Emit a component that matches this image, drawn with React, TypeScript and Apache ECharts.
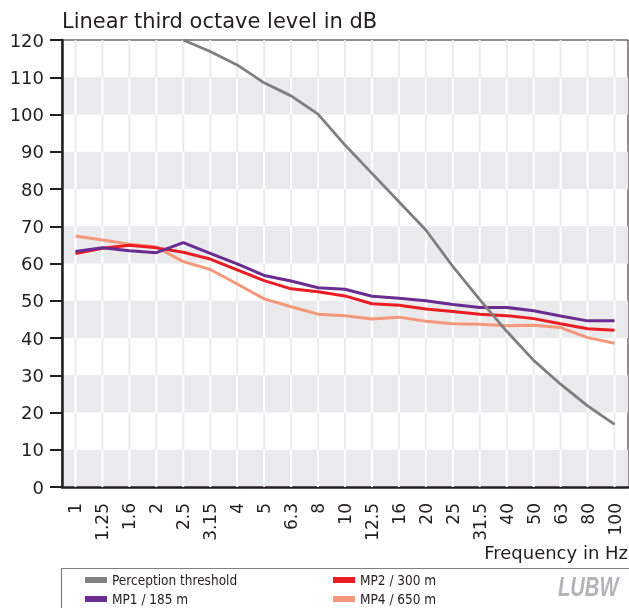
import React, { useEffect, useRef } from "react";
import * as echarts from "echarts";

const categories = ["1", "1.25", "1.6", "2", "2.5", "3.15", "4", "5", "6.3", "8", "10", "12.5", "16", "20", "25", "31.5", "40", "50", "63", "80", "100"];
const threshold = [null, null, null, null, 120, 116.9, 113.3, 108.5, 105.0, 100.1, 91.8, 84.2, 76.6, 69.0, 59.2, 50.3, 41.8, 34.0, 27.6, 21.8, 16.8];
const mp1 = [63.2, 64.2, 63.4, 62.9, 65.6, 62.7, 59.9, 56.8, 55.3, 53.5, 53.1, 51.2, 50.7, 50.0, 49.0, 48.2, 48.2, 47.3, 45.9, 44.6, 44.6];
const mp2 = [62.7, 64.1, 64.9, 64.2, 63.0, 61.2, 58.3, 55.4, 53.2, 52.4, 51.3, 49.2, 48.8, 47.8, 47.1, 46.4, 46.0, 45.2, 43.8, 42.5, 42.1];
const mp4 = [67.4, 66.3, 65.2, 64.4, 60.5, 58.4, 54.5, 50.5, 48.4, 46.4, 46.0, 45.1, 45.6, 44.5, 43.8, 43.7, 43.3, 43.4, 42.8, 40.1, 38.6];
const bandStarts = [0, 10, 20, 30, 40, 50, 60, 70, 80, 90, 100, 110];

const seriesNames = ["Perception threshold", "MP1 / 185 m", "MP2 / 300 m", "MP4 / 650 m"];
const colors = { threshold: "#7f7f7f", mp1: "#6a2c91", mp2: "#ec1c24", mp4: "#f5977b" };

const FONT = '"DejaVu Sans", sans-serif';
const NARROW = '"Liberation Sans Narrow", "DejaVu Sans Condensed", "Liberation Sans", sans-serif';
const INK = "#231f20";

export default function App() {
  const ref = useRef<HTMLDivElement>(null);
  useEffect(() => {
    if (!ref.current) return;
    const chart = echarts.init(ref.current, undefined, { renderer: "svg" });
    const gridLineData: number[][] = [];
    categories.forEach((_, i) => {
      bandStarts.forEach((b) => {
        gridLineData.push([i, b, b + 10, (b / 10) % 2 === 0 ? 1 : 0]);
      });
    });
    const legendText = { fontFamily: NARROW, fontSize: 13.5, color: INK, lineHeight: 15 };
    const legendPos = [
      [85, 572.5],
      [85, 591.5],
      [333, 572.5],
      [333, 591.5],
    ];
    const legends = seriesNames.map((name, i) => ({
      left: legendPos[i][0],
      top: legendPos[i][1],
      padding: 0,
      itemWidth: 22,
      itemHeight: 6,
      itemGap: 0,
      icon: "rect",
      selectedMode: false,
      data: [name],
      textStyle: legendText,
    }));
    const option: any = {
      animation: false,
      title: {
        text: "Linear third octave level in dB",
        left: 62,
        top: 10,
        padding: 0,
        textStyle: { fontFamily: FONT, fontSize: 21, fontWeight: "normal", color: INK },
      },
      grid: {
        left: 62,
        right: 1,
        top: 40,
        bottom: 121,
        show: true,
        borderColor: INK,
        borderWidth: 1,
        backgroundColor: "transparent",
      },
      legend: legends,
      xAxis: {
        type: "category",
        data: categories,
        boundaryGap: true,
        axisLine: { lineStyle: { color: INK, width: 2.5 } },
        axisTick: { alignWithLabel: true, interval: 0, length: 11, lineStyle: { color: INK, width: 2 } },
        axisLabel: { rotate: 90, interval: 0, margin: 16, fontSize: 17, fontFamily: FONT, color: INK },
        splitLine: { show: false },
      },
      yAxis: {
        type: "value",
        min: 0,
        max: 120,
        interval: 10,
        axisLine: { show: true, lineStyle: { color: INK, width: 2.5 } },
        axisTick: { show: true, length: 12, lineStyle: { color: INK, width: 2 } },
        axisLabel: { margin: 18, fontSize: 18, fontFamily: FONT, color: INK },
        splitLine: { show: false },
        splitArea: { show: true, areaStyle: { color: ["#eaeaec", "rgba(255,255,255,0)"] } },
      },
      graphic: [
        {
          type: "rect",
          shape: { x: 61.5, y: 568.5, width: 620, height: 60 },
          style: { fill: "none", stroke: "#808080", lineWidth: 1.2 },
        },
        {
          type: "text",
          right: 1,
          top: 543,
          style: { text: "Frequency in Hz", fontFamily: "DejaVu Sans", fontSize: 18, fill: INK },
        },
        {
          type: "text",
          x: 558,
          y: 572,
          scaleX: 0.72,
          style: {
            text: "LUBW",
            fontFamily: "Liberation Sans",
            fontSize: 28,
            fontWeight: "bold",
            fontStyle: "italic",
            fill: "#b4b4b8",
          },
        },
      ],
      series: [
        {
          type: "custom",
          silent: true,
          z: 1,
          data: gridLineData,
          encode: { x: 0, y: [1, 2] },
          renderItem: (params: any, api: any) => {
            const p1 = api.coord([api.value(0), api.value(1)]);
            const p2 = api.coord([api.value(0), api.value(2)]);
            return {
              type: "line",
              shape: { x1: p1[0], y1: p1[1], x2: p2[0], y2: p2[1] },
              style: { stroke: api.value(3) ? "#ffffff" : "#ebebeb", lineWidth: 2 },
            };
          },
        },
        {
          name: seriesNames[3],
          type: "line",
          data: mp4,
          symbol: "none",
          z: 3,
          itemStyle: { color: colors.mp4 },
          lineStyle: { color: colors.mp4, width: 3 },
        },
        {
          name: seriesNames[2],
          type: "line",
          data: mp2,
          symbol: "none",
          z: 4,
          itemStyle: { color: colors.mp2 },
          lineStyle: { color: colors.mp2, width: 3 },
        },
        {
          name: seriesNames[1],
          type: "line",
          data: mp1,
          symbol: "none",
          z: 5,
          itemStyle: { color: colors.mp1 },
          lineStyle: { color: colors.mp1, width: 3 },
        },
        {
          name: seriesNames[0],
          type: "line",
          data: threshold,
          symbol: "none",
          z: 6,
          itemStyle: { color: colors.threshold },
          lineStyle: { color: colors.threshold, width: 2.8 },
        },
      ],
    };
    chart.setOption(option);
    return () => chart.dispose();
  }, []);
  return (
    <div
      ref={ref}
      style={{ position: "fixed", left: 0, top: 0, width: 629, height: 608 }}
    />
  );
}
